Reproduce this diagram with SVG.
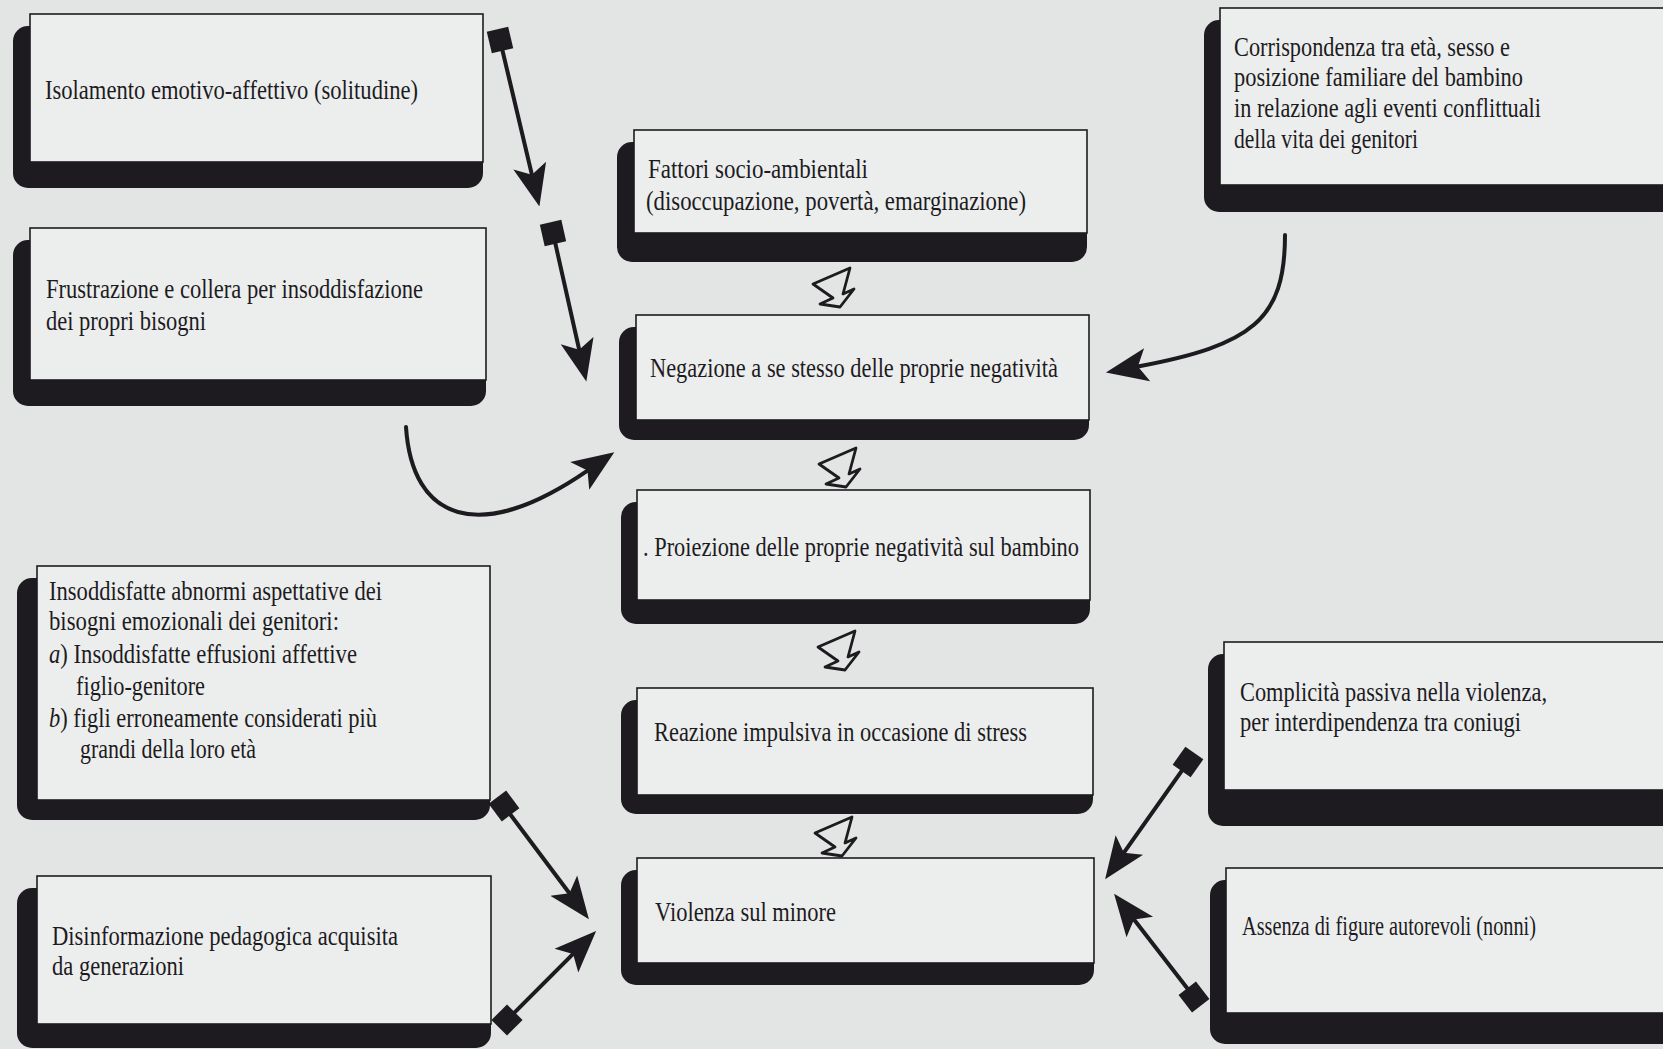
<svg xmlns="http://www.w3.org/2000/svg" width="1663" height="1049" viewBox="0 0 1663 1049">
<style>
.bg{fill:#e3e5e4}
.sh{fill:#1d1b1f}
.bx{fill:#eceeed;stroke:#1d1b1f;stroke-width:1.6}
.t{font-family:"Liberation Serif","Times New Roman",serif;font-size:27px;fill:#1d1b1f}
.ln{fill:none;stroke:#1d1b1f;stroke-width:4;stroke-linecap:round}
.zz{fill:none;stroke:#1d1b1f;stroke-width:2.8;stroke-linejoin:round}
</style>
<defs>
<marker id="ah" markerUnits="userSpaceOnUse" markerWidth="42" markerHeight="36" viewBox="0 0 40 34" refX="9" refY="17" orient="auto">
<path d="M0,1 L40,17 L0,33 L9,17 Z" fill="#1d1b1f"/>
</marker>
<marker id="sq" markerUnits="userSpaceOnUse" markerWidth="26" markerHeight="26" viewBox="0 0 26 26" refX="13" refY="13" orient="auto">
<rect x="2" y="2" width="22" height="22" fill="#1d1b1f"/>
</marker>
<path id="zig" d="M-27,-3 L10,-19 L3,7 L14,2 L0,20 L-20,17 L-7,11 Z"/>
</defs>
<rect class="bg" x="0" y="0" width="1663" height="1049"/>

<g id="n-isolamento">
<rect class="sh" x="13" y="26" width="470" height="162" rx="15"/>
<rect class="bx" x="30" y="14" width="453" height="148"/>
<text class="t" x="45" y="99" textLength="373" lengthAdjust="spacingAndGlyphs">Isolamento emotivo-affettivo (solitudine)</text>
</g>

<g id="n-frustrazione">
<rect class="sh" x="13" y="240" width="473" height="166" rx="15"/>
<rect class="bx" x="30" y="228" width="456" height="152"/>
<text class="t" x="46" y="298" textLength="377" lengthAdjust="spacingAndGlyphs">Frustrazione e collera per insoddisfazione</text>
<text class="t" x="46" y="330" textLength="160" lengthAdjust="spacingAndGlyphs">dei propri bisogni</text>
</g>

<g id="n-fattori">
<rect class="sh" x="617" y="142" width="470" height="120" rx="15"/>
<rect class="bx" x="634" y="130" width="453" height="103"/>
<text class="t" x="648" y="178" textLength="220" lengthAdjust="spacingAndGlyphs">Fattori socio-ambientali</text>
<text class="t" x="646" y="210" textLength="380" lengthAdjust="spacingAndGlyphs">(disoccupazione, povertà, emarginazione)</text>
</g>

<g id="n-negazione">
<rect class="sh" x="619" y="327" width="470" height="113" rx="15"/>
<rect class="bx" x="636" y="315" width="453" height="105"/>
<text class="t" x="650" y="377" textLength="408" lengthAdjust="spacingAndGlyphs">Negazione a se stesso delle proprie negatività</text>
</g>

<g id="n-proiezione">
<rect class="sh" x="621" y="502" width="469" height="122" rx="15"/>
<rect class="bx" x="637" y="490" width="453" height="110"/>
<text class="t" x="643" y="556" textLength="436" lengthAdjust="spacingAndGlyphs">. Proiezione delle proprie negatività sul bambino</text>
</g>

<g id="n-reazione">
<rect class="sh" x="621" y="700" width="472" height="114" rx="15"/>
<rect class="bx" x="637" y="688" width="456" height="107"/>
<text class="t" x="654" y="741" textLength="373" lengthAdjust="spacingAndGlyphs">Reazione impulsiva in occasione di stress</text>
</g>

<g id="n-violenza">
<rect class="sh" x="621" y="870" width="473" height="115" rx="15"/>
<rect class="bx" x="637" y="858" width="457" height="105"/>
<text class="t" x="655" y="921" textLength="181" lengthAdjust="spacingAndGlyphs">Violenza sul minore</text>
</g>

<g id="n-corrispondenza">
<rect class="sh" x="1204" y="20" width="480" height="192" rx="15"/>
<rect class="bx" x="1220" y="8" width="470" height="177"/>
<text class="t" x="1234" y="56" textLength="276" lengthAdjust="spacingAndGlyphs">Corrispondenza tra età, sesso e</text>
<text class="t" x="1234" y="86" textLength="289" lengthAdjust="spacingAndGlyphs">posizione familiare del bambino</text>
<text class="t" x="1234" y="117" textLength="307" lengthAdjust="spacingAndGlyphs">in relazione agli eventi conflittuali</text>
<text class="t" x="1234" y="148" textLength="184" lengthAdjust="spacingAndGlyphs">della vita dei genitori</text>
</g>

<g id="n-insoddisfatte">
<rect class="sh" x="17" y="578" width="473" height="242" rx="15"/>
<rect class="bx" x="37" y="566" width="453" height="234"/>
<text class="t" x="49" y="600" textLength="333" lengthAdjust="spacingAndGlyphs">Insoddisfatte abnormi aspettative dei</text>
<text class="t" x="49" y="630" textLength="290" lengthAdjust="spacingAndGlyphs">bisogni emozionali dei genitori:</text>
<text class="t" x="49" y="663" textLength="308" lengthAdjust="spacingAndGlyphs"><tspan font-style="italic">a</tspan>) Insoddisfatte effusioni affettive</text>
<text class="t" x="76" y="695" textLength="129" lengthAdjust="spacingAndGlyphs">figlio-genitore</text>
<text class="t" x="49" y="727" textLength="328" lengthAdjust="spacingAndGlyphs"><tspan font-style="italic">b</tspan>) figli erroneamente considerati più</text>
<text class="t" x="80" y="758" textLength="176" lengthAdjust="spacingAndGlyphs">grandi della loro età</text>
</g>

<g id="n-disinformazione">
<rect class="sh" x="17" y="888" width="474" height="160" rx="15"/>
<rect class="bx" x="37" y="876" width="454" height="148"/>
<text class="t" x="52" y="945" textLength="346" lengthAdjust="spacingAndGlyphs">Disinformazione pedagogica acquisita</text>
<text class="t" x="52" y="975" textLength="132" lengthAdjust="spacingAndGlyphs">da generazioni</text>
</g>

<g id="n-complicita">
<rect class="sh" x="1208" y="654" width="476" height="172" rx="15"/>
<rect class="bx" x="1224" y="642" width="466" height="148"/>
<text class="t" x="1240" y="701" textLength="307" lengthAdjust="spacingAndGlyphs">Complicità passiva nella violenza,</text>
<text class="t" x="1240" y="731" textLength="281" lengthAdjust="spacingAndGlyphs">per interdipendenza tra coniugi</text>
</g>

<g id="n-assenza">
<rect class="sh" x="1210" y="880" width="474" height="164" rx="15"/>
<rect class="bx" x="1226" y="868" width="464" height="145"/>
<text class="t" x="1242" y="935" textLength="294" lengthAdjust="spacingAndGlyphs">Assenza di figure autorevoli (nonni)</text>
</g>

<g id="connectors">
<path class="ln" d="M500,40 L531.9,174.8" marker-start="url(#sq)" marker-end="url(#ah)"/>
<path class="ln" d="M553,233 L579.2,349.8" marker-start="url(#sq)" marker-end="url(#ah)"/>
<path class="ln" d="M406,427 C412,520 478,546 587.5,470.6" marker-end="url(#ah)"/>
<path class="ln" d="M1285,235 C1285,320 1252,345 1137.9,366.5" marker-end="url(#ah)"/>
<path class="ln" d="M504,806 L569.4,893.2" marker-start="url(#sq)" marker-end="url(#ah)"/>
<path class="ln" d="M507,1020 L573.1,953.9" marker-start="url(#sq)" marker-end="url(#ah)"/>
<path class="ln" d="M1188,762 L1123.9,852.7" marker-start="url(#sq)" marker-end="url(#ah)"/>
<path class="ln" d="M1194,997 L1134,919.5" marker-start="url(#sq)" marker-end="url(#ah)"/>
<use href="#zig" class="zz" x="840" y="287"/>
<use href="#zig" class="zz" x="846" y="467"/>
<use href="#zig" class="zz" x="845" y="650"/>
<use href="#zig" class="zz" x="842" y="836"/>
</g>
</svg>
